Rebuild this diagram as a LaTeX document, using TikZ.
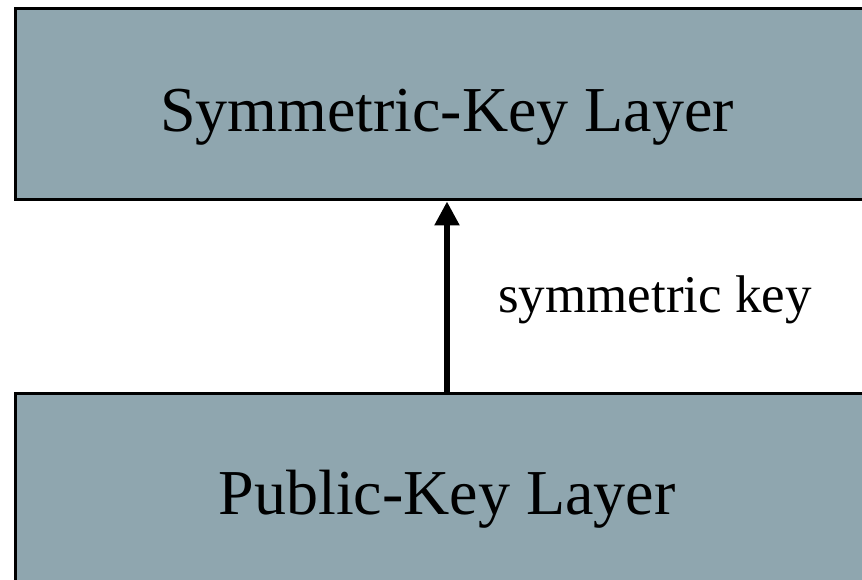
\documentclass[tikz,border=0pt]{standalone}
\usepackage{fontspec}
\setmainfont{Liberation Serif}
\usetikzlibrary{arrows.meta}
\definecolor{layerfill}{RGB}{143,166,175}
\tikzset{
  layer/.style={draw=black, line width=3pt, fill=layerfill, rectangle, inner sep=0pt},
  layertext/.style={font=\fontsize{64}{70}\selectfont, inner sep=0pt, anchor=base},
  keyarrow/.style={line width=5.5pt, -{Triangle[width=24pt,length=24pt]}},
  lbl/.style={font=\fontsize{53}{60}\selectfont, inner sep=0pt, anchor=base west}
}
\begin{document}
\begin{tikzpicture}[x=1pt,y=1pt]
\useasboundingbox (0,0) rectangle (862,-580);
\clip (0,0) rectangle (862,-580);
\node[layer, minimum width=865pt, minimum height=191pt] (sym) at (447.5,-104.5) {};
\node[layertext] (symtext) at (447,-132) {Symmetric-Key Layer};
\node[layer, minimum width=865pt, minimum height=207pt] (pub) at (447.5,-496.5) {};
\node[layertext] (pubtext) at (447,-514) {Public-Key Layer};
\draw[keyarrow] (pub.north -| 447,0) -- (sym.south -| 447,0);
\node[lbl] (lab) at (498,-312) {symmetric key};
\end{tikzpicture}
\end{document}
